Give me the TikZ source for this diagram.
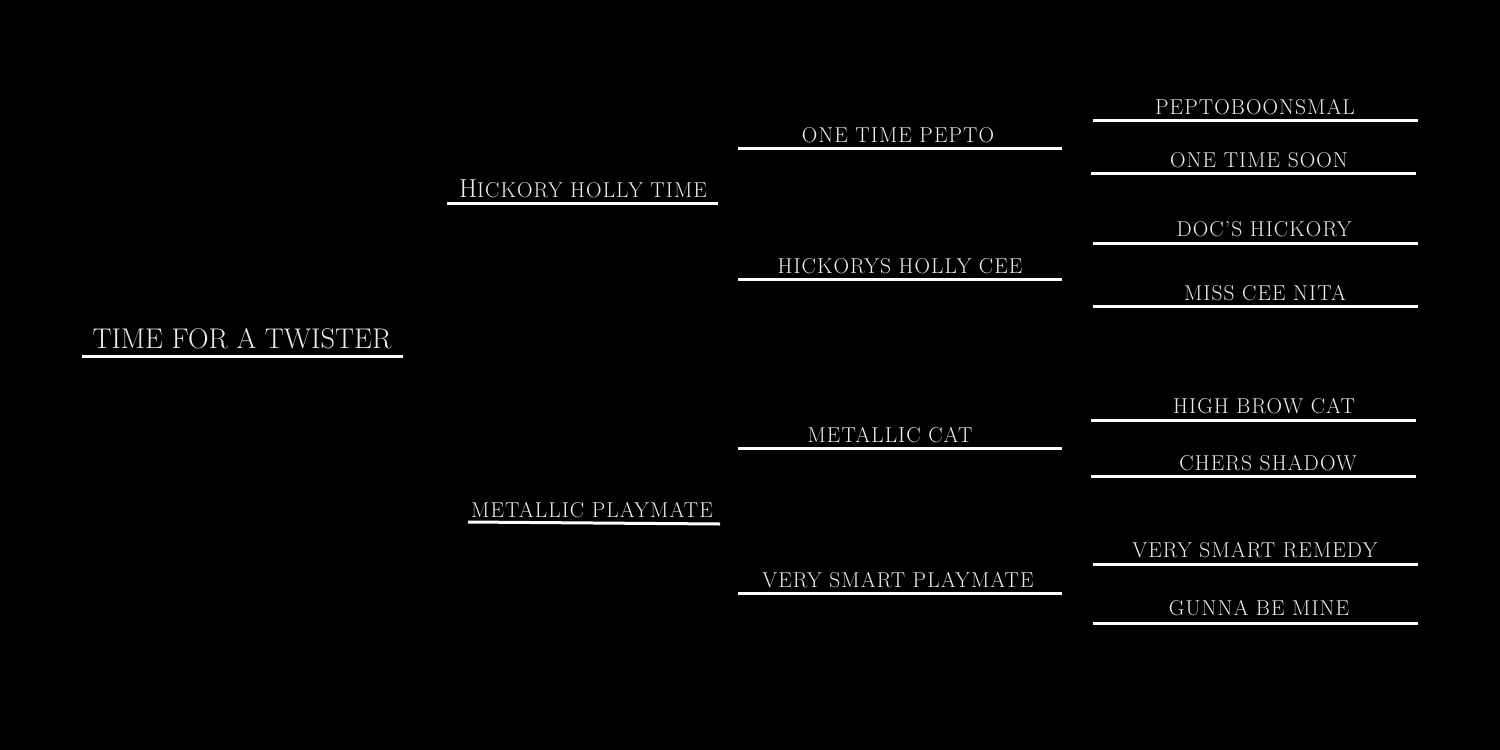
\documentclass[tikz,border=0pt]{standalone}
\usepackage{fontspec}
\setmainfont{Latin Modern Roman}
\newfontfamily\spacedfont[LetterSpace=5]{Latin Modern Roman}
\begin{document}
\begin{tikzpicture}[x=1pt,y=-1pt,
  rule/.style={draw=white,line width=3pt},
  lbl/.style={anchor=base,inner sep=0pt,text=white!92!black,font=\spacedfont\fontsize{21.5}{24}\selectfont},
  big/.style={anchor=base,inner sep=0pt,text=white!92!black,font=\fontsize{28.5}{34}\selectfont}]
\fill[black] (0,0) rectangle (1500,750);
\useasboundingbox (0,0) rectangle (1500,750);
% generation 0
\node[big] (n0) at (242,348) {TIME FOR A TWISTER};
\draw[rule] (82,356) -- (403,356);
% generation 1
\node[lbl] (n1) at (583,197) {{\fontsize{26}{30}\selectfont H}ICKORY HOLLY TIME};
\draw[rule] (447,203) -- (718,203);
\node[lbl] (n2) at (592,517) {METALLIC PLAYMATE};
\draw[rule] (468,522) -- (720,524);
% generation 2
\node[lbl] (n3) at (898,142) {ONE TIME PEPTO};
\draw[rule] (738,148) -- (1062,148);
\node[lbl] (n4) at (900,273) {HICKORYS HOLLY CEE};
\draw[rule] (738,279) -- (1062,279);
\node[lbl] (n5) at (890,442) {METALLIC CAT};
\draw[rule] (738,448) -- (1062,448);
\node[lbl] (n6) at (898,587) {VERY SMART PLAYMATE};
\draw[rule] (738,593) -- (1062,593);
% generation 3
\node[lbl] (n7) at (1255,114) {PEPTOBOONSMAL};
\draw[rule] (1093,120) -- (1418,120);
\node[lbl] (n8) at (1259,167) {ONE TIME SOON};
\draw[rule] (1091,173) -- (1416,173);
\node[lbl] (n9) at (1264,236) {DOC’S HICKORY};
\draw[rule] (1093,243) -- (1418,243);
\node[lbl] (n10) at (1265,300) {MISS CEE NITA};
\draw[rule] (1093,306) -- (1418,306);
\node[lbl] (n11) at (1264,413) {HIGH BROW CAT};
\draw[rule] (1091,420) -- (1416,420);
\node[lbl] (n12) at (1268,470) {CHERS SHADOW};
\draw[rule] (1091,476) -- (1416,476);
\node[lbl] (n13) at (1255,557) {VERY SMART REMEDY};
\draw[rule] (1093,564) -- (1418,564);
\node[lbl] (n14) at (1259,615) {GUNNA BE MINE};
\draw[rule] (1093,623) -- (1418,623);
\end{tikzpicture}
\end{document}
